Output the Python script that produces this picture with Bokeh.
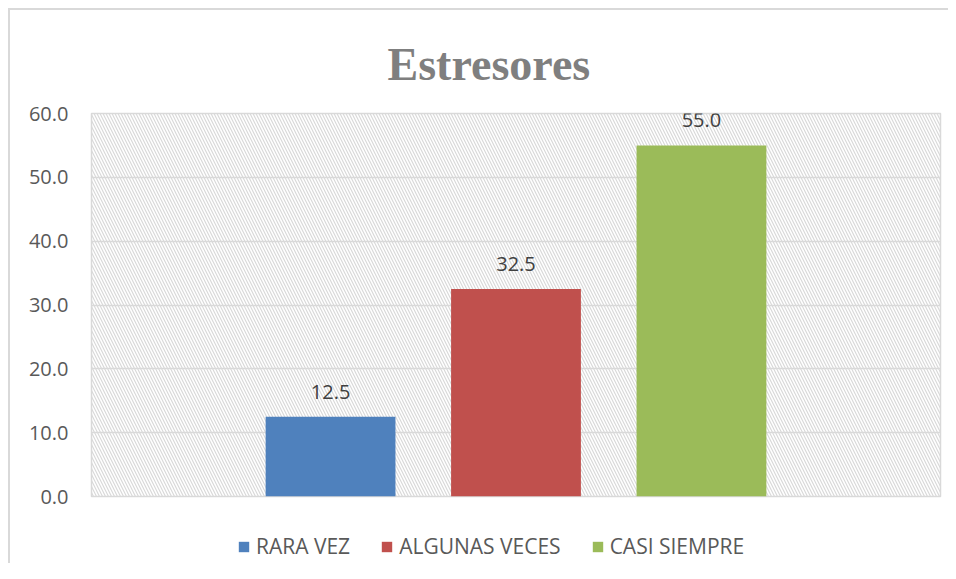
from bokeh.plotting import figure
from bokeh.layouts import column
from bokeh.core.properties import value
from bokeh.models import (FactorRange, Range1d, BoxAnnotation, Legend, LegendItem,
                          ColumnDataSource, LabelSet, FixedTicker, NumeralTickFormatter)
from bokeh.embed import file_html
from bokeh.resources import INLINE

title_text = "Estresores"
categories = ["RARA VEZ", "ALGUNAS VECES", "CASI SIEMPRE"]
values = [12.5, 32.5, 55.0]
value_labels = ["12.5", "32.5", "55.0"]
colors = ["#4F81BD", "#C0504D", "#9BBB59"]
y_ticks = [0, 10, 20, 30, 40, 50, 60]

src = ColumnDataSource(dict(cat=categories, val=values, lbl=value_labels, col=colors))

p = figure(width=938, height=500,
           x_range=FactorRange(*categories, range_padding=0.526, range_padding_units="percent"),
           y_range=Range1d(0, 60),
           output_backend="svg", toolbar_location=None,
           min_border_left=81, min_border_right=8, min_border_top=103, min_border_bottom=14)

p.title.text = title_text
p.title.align = "left"
p.title.offset = 296
p.title.standoff = 48
p.title.text_line_height = 1.0
p.title.text_font = "Liberation Serif"
p.title.text_font_style = "bold"
p.title.text_font_size = "46px"
p.title.text_color = "#7F7F7F"

p.background_fill_color = "white"
p.border_fill_color = "white"
p.outline_line_color = "#D9D9D9"
p.outline_line_width = 1.5

hatch = BoxAnnotation(fill_alpha=0, line_alpha=0, hatch_pattern="\\", hatch_color="#D9D9D9",
                      hatch_scale=6, hatch_weight=1.2, level="image")
p.add_layout(hatch)

p.xgrid.grid_line_color = None
p.ygrid.grid_line_color = "#D9D9D9"
p.ygrid.grid_line_width = 1.5

p.xaxis.visible = False
p.yaxis.ticker = FixedTicker(ticks=y_ticks)
p.yaxis.formatter = NumeralTickFormatter(format="0.0")
p.yaxis.axis_line_color = None
p.yaxis.major_tick_line_color = None
p.yaxis.major_tick_out = 0
p.yaxis.major_tick_in = 0
p.yaxis.minor_tick_line_color = None
p.yaxis.major_label_standoff = 23
p.yaxis.major_label_text_font = "Open Sans"
p.yaxis.major_label_text_font_size = "20px"
p.yaxis.major_label_text_color = "#595959"

r = p.vbar(x="cat", top="val", width=0.7, fill_color="col", line_color=None, source=src)

labels = LabelSet(x="cat", y="val", text="lbl", source=src, y_offset=18,
                  text_align="center", text_baseline="alphabetic",
                  text_font=value("Open Sans"), text_font_size=value("20px"), text_color="#404040")
p.add_layout(labels)

# legend strip below the chart
p2 = figure(width=938, height=53,
            x_range=FactorRange(*categories), y_range=Range1d(100, 101),
            output_backend="svg", toolbar_location=None,
            x_axis_location=None, y_axis_location=None,
            min_border_left=0, min_border_right=0, min_border_top=0, min_border_bottom=0)
p2.grid.visible = False
p2.outline_line_color = None
p2.background_fill_color = "white"
p2.border_fill_color = "white"
r2 = p2.vbar(x="cat", top="val", width=0.7, fill_color="col", line_color=None, source=src)

legend = Legend(items=[LegendItem(label=c, renderers=[r2], index=i) for i, c in enumerate(categories)],
                orientation="horizontal", location=(146, 3),
                border_line_color=None, background_fill_alpha=0,
                glyph_width=13, glyph_height=13, label_standoff=6, spacing=30,
                label_text_font="Open Sans", label_text_font_size="21px",
                label_text_color="#595959", padding=0, margin=0)
p2.add_layout(legend)

layout = column(p, p2, spacing=0, margin=(8, 0, 0, 8),
                styles={"border-left": "2px solid #D9D9D9", "border-top": "2px solid #D9D9D9"})

open("out.html", "w").write(file_html(layout, INLINE))
